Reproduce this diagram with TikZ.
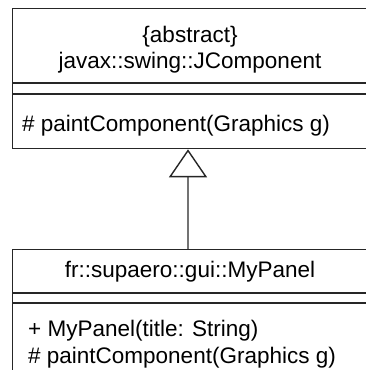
\documentclass[tikz,border=0pt]{standalone}
\usepackage{fontspec}
\setmainfont{Liberation Sans}
\usetikzlibrary{arrows.meta}

\tikzset{
  umltext/.style={inner sep=0pt, font=\fontsize{22.5}{27}\selectfont},
  classbox/.style={draw=black!85, line width=1.3pt, inner sep=0pt, anchor=north west},
  inherit/.style={draw=black!55, line width=1.4pt,
    -{Triangle[open, length=28pt, width=38pt, color=black!85, fill=white]}},
}

\begin{document}
\begin{tikzpicture}[x=1pt,y=-1pt]
\useasboundingbox (0,0) rectangle (366,370);

% the abstract super class
\node[classbox, minimum width=356pt, minimum height=140pt] (jcomp) at (12,8) {};
\draw[black!85, line width=1.3pt] (12,83) -- (368,83) (12,94) -- (368,94);
\node[umltext, anchor=base] (jcompstereo) at (190,42) {\{abstract\}};
\node[umltext, anchor=base] (jcompname) at (190,68) {javax::swing::JComponent};
\node[umltext, anchor=base west] (jcompop) at (22,131) {\# paintComponent(Graphics g)};

% the sub class
\node[classbox, minimum width=356pt, minimum height=160pt] (panel) at (12,249) {};
\draw[black!85, line width=1.3pt] (12,293) -- (368,293) (12,303) -- (368,303);
\node[umltext, anchor=base] (panelname) at (190,277) {fr::supaero::gui::MyPanel};
\node[umltext, anchor=base west] (panelctor) at (28,336) {+ MyPanel(title: String)};
\node[umltext, anchor=base west] (panelop) at (28,363) {\# paintComponent(Graphics g)};

% generalisation
\draw[inherit] ([xshift=176pt]panel.north west) -- ([xshift=176pt]jcomp.south west);
\end{tikzpicture}
\end{document}
